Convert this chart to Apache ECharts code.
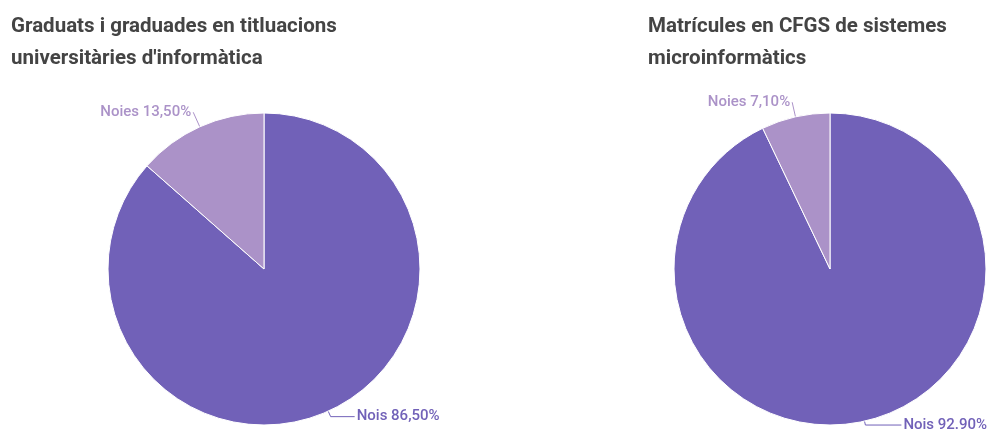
<!DOCTYPE html>
<html><head><meta charset="utf-8">
<script src="https://cdn.jsdelivr.net/npm/echarts@6/dist/echarts.min.js"></script>
<style>html,body{margin:0;padding:0;background:#fff}#c{width:989px;height:432px}</style>
</head><body><div id="c"></div>
<script>
const titles = ["Graduats i graduades en titluacions\nuniversitàries d'informàtica", "Matrícules en CFGS de sistemes\nmicroinformàtics"];
const categories = ["Nois", "Noies"];
const chart1Values = [86.5, 13.5];
const chart2Values = [92.9, 7.1];
const chart1Labels = ["Nois 86,50%", "Noies 13,50%"];
const chart2Labels = ["Nois 92.90%", "Noies 7,10%"];

const colors = ['#7161b8', '#ab92c8'];
function mk(vals, labels, lines) {
  return categories.map((c, i) => ({
    name: c, value: vals[i],
    itemStyle: {color: colors[i]},
    label: {formatter: labels[i], color: colors[i]},
    labelLine: {length: lines[i][0], length2: lines[i][1], lineStyle: {color: colors[i], width: 1}}
  }));
}
const chart = echarts.init(document.getElementById('c'));
const titleStyle = {fontFamily: 'Roboto', fontSize: 20.5, fontWeight: 'bold', color: '#444', lineHeight: 32};
const labelStyle = {fontFamily: 'Roboto', fontSize: 15, fontWeight: 500, distanceToLabelLine: 2, overflow: 'none'};
chart.setOption({
  animation: false,
  title: [
    {text: titles[0], left: 6, top: 6, textStyle: titleStyle},
    {text: titles[1], left: 643, top: 6, textStyle: titleStyle}
  ],
  series: [
    {type: 'pie', center: [264, 269], radius: 156, startAngle: 90,
     data: mk(chart1Values, chart1Labels, [[6, 24], [16, 0]]),
     itemStyle: {borderColor: '#fff', borderWidth: 1},
     label: labelStyle},
    {type: 'pie', center: [830, 269], radius: 156, startAngle: 90,
     data: mk(chart2Values, chart2Labels, [[4, 36], [15, 0]]),
     itemStyle: {borderColor: '#fff', borderWidth: 1},
     label: labelStyle}
  ]
});
</script></body></html>
